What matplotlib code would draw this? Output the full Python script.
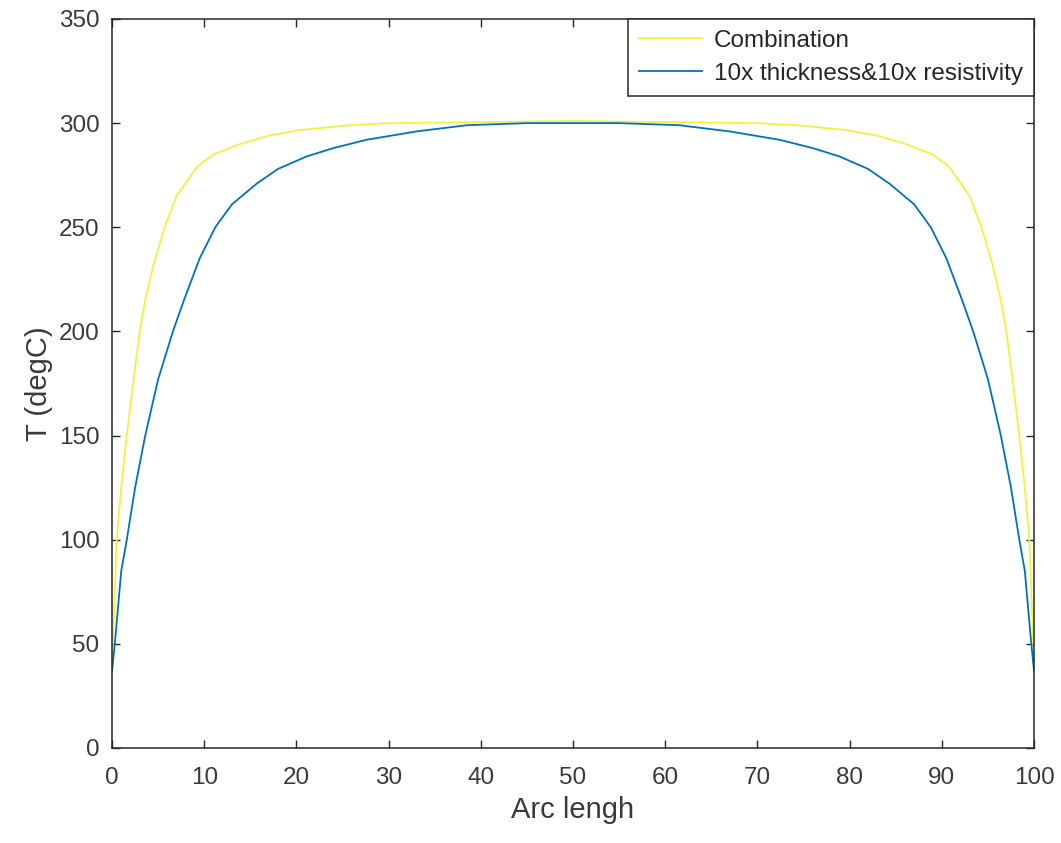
import matplotlib.pyplot as plt
import numpy as np

plt.rcParams['font.family'] = ['Liberation Sans', 'DejaVu Sans']

# temperature along the arc
x_comb = [0, 0.5, 1, 1.6, 2, 3, 3.6, 4.5, 5.7, 7, 9.2, 11, 13.9, 17, 20.4, 25.8, 30, 40,
          50, 60, 70, 74.2, 79.6, 83, 86.1, 89, 90.8, 93, 94.3, 95.5, 96.4, 97, 98,
          98.4, 99, 99.5, 100]
t_comb = [40, 100, 125, 150, 165, 200, 215, 232, 250, 265, 279, 285, 290, 294, 296.7, 299, 300, 300.5,
          301, 300.5, 300, 299, 296.7, 294, 290, 285, 279, 265, 250, 232, 215, 200, 165,
          150, 125, 100, 40]

x_thick = [0, 0.3, 1, 1.6, 2.5, 3.6, 5, 6.6, 7.8, 9.5, 11.2, 13, 15.7, 18, 21.1, 24, 27.6, 33,
           38.5, 45, 50, 55, 61.5, 67, 72.4, 76, 78.9, 82, 84.3, 87, 88.8, 90.5, 92.2,
           93.4, 95, 96.4, 97.5, 98.4, 99, 99.7, 100]
t_thick = [37, 50, 85, 100, 125, 150, 177, 200, 215, 235, 250, 261, 271, 278, 284, 288, 292, 296,
           299, 300, 300, 300, 299, 296, 292, 288, 284, 278, 271, 261, 250, 235, 215,
           200, 177, 150, 125, 100, 85, 50, 37]

labels = ["Combination", "10x thickness&10x resistivity"]

fig = plt.figure(figsize=(10.61, 8.43), dpi=100)
ax = fig.add_axes([0.1056, 0.1127, 0.8690, 0.8648])

ax.plot(x_comb, t_comb, color="#f2f23c", lw=1.3, label=labels[0])
ax.plot(x_thick, t_thick, color="#0072BD", lw=1.3, label=labels[1])

ax.set_xlim(0, 100)
ax.set_ylim(0, 350)
ax.set_xticks(np.arange(0, 101, 10))
ax.set_yticks(np.arange(0, 351, 50))

ax.tick_params(direction="in", length=6, width=1, top=True, right=True,
               labelsize=17.5, colors="#262626", labelcolor="#3a3a3a", pad=14)
ax.tick_params(axis="y", pad=9)
for s in ax.spines.values():
    s.set_color("#262626")
    s.set_linewidth(1.1)

ax.set_xlabel("Arc lengh", fontsize=21, color="#3a3a3a", labelpad=5)
ax.set_ylabel("T (degC)", fontsize=21, color="#3a3a3a", labelpad=4)

leg = ax.legend(loc="upper right", borderaxespad=0, fancybox=False, framealpha=1,
                edgecolor="#262626", fontsize=17.5, handlelength=2.6, handletextpad=0.5,
                borderpad=0.45, labelspacing=0.45)
leg.get_frame().set_linewidth(1.1)
for t in leg.get_texts():
    t.set_color("#262626")

fig.savefig("out.png", dpi=100)
